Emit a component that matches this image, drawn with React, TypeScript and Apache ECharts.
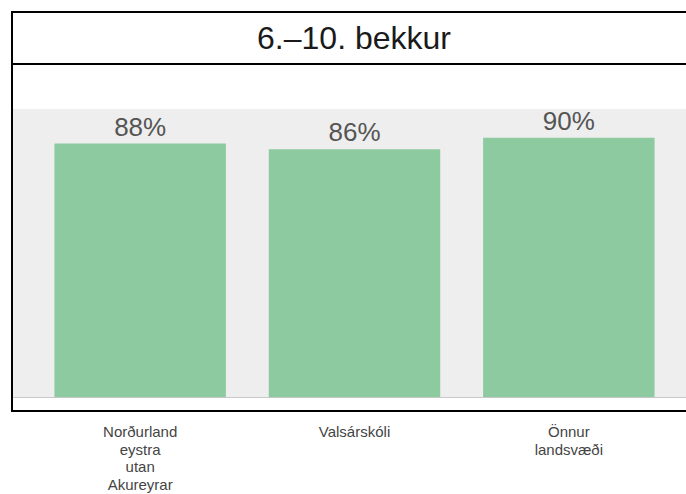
import React, { useEffect, useRef } from "react";
import * as echarts from "echarts";

const title = "6.–10. bekkur";
const categories = ["Norðurland\neystra\nutan\nAkureyrar", "Valsárskóli", "Önnur\nlandsvæði"];
const values = [88, 86, 90];

const FONT = "'Liberation Sans', Arial, sans-serif";

export default function App() {
  const ref = useRef<HTMLDivElement>(null);
  useEffect(() => {
    if (!ref.current) return;
    const chart = echarts.init(ref.current, null, { renderer: "svg" });
    chart.setOption({
      animation: false,
      backgroundColor: "#ffffff",
      grid: { left: 33, right: 10, top: 109, bottom: 97, containLabel: false },
      xAxis: {
        type: "category",
        data: categories,
        axisLine: { show: false },
        axisTick: { show: false },
        axisLabel: {
          margin: 26,
          color: "#444",
          fontSize: 15,
          lineHeight: 17.5,
          fontFamily: FONT,
          interval: 0,
        },
      },
      yAxis: {
        type: "value",
        min: 0,
        max: 100,
        show: false,
        splitLine: { show: false },
      },
      graphic: [
        {
          type: "rect",
          z: -10,
          shape: { x: 12, y: 109, width: 690, height: 288 },
          style: { fill: "#eeeeee" },
        },
        {
          type: "line",
          z: -5,
          shape: { x1: 12, y1: 397.5, x2: 700, y2: 397.5 },
          style: { stroke: "#c8c8c8", lineWidth: 1 },
        },
        {
          type: "rect",
          z: 50,
          shape: { x: 12, y: 12, width: 690, height: 399 },
          style: { fill: "none", stroke: "#000", lineWidth: 2 },
        },
        {
          type: "line",
          z: 50,
          shape: { x1: 12, y1: 64, x2: 700, y2: 64 },
          style: { stroke: "#000", lineWidth: 2 },
        },
        {
          type: "text",
          z: 50,
          x: 354,
          y: 38,
          style: {
            text: title,
            fontSize: 32,
            fontFamily: FONT,
            fill: "#1a1a1a",
            textAlign: "center",
            textVerticalAlign: "middle",
          },
        },
      ],
      series: [
        {
          type: "bar",
          data: values,
          z: 10,
          barCategoryGap: "20%",
          itemStyle: { color: "#8ecaa0" },
          label: {
            show: true,
            position: "top",
            distance: 4,
            formatter: "{c}%",
            color: "#555",
            fontSize: 26,
            fontFamily: FONT,
          },
        },
      ],
    });
    return () => chart.dispose();
  }, []);
  return (
    <div
      ref={ref}
      style={{ position: "fixed", left: 0, top: 0, width: 686, height: 494 }}
    />
  );
}
